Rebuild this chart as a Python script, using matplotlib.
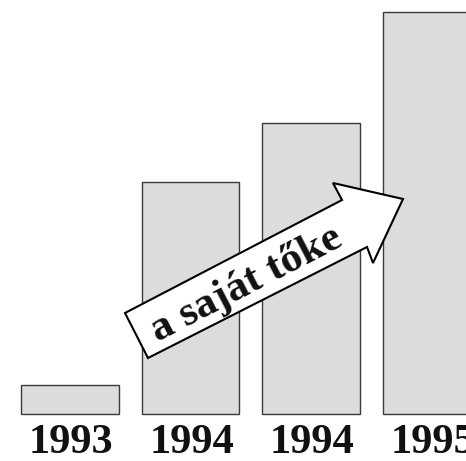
import matplotlib
matplotlib.use('Agg')
import matplotlib.pyplot as plt
from matplotlib.patches import Polygon

# bar data (heights, arbitrary units)
years = ['1993', '1994', '1994', '1995']
values = [29, 232, 291, 402]
arrow_label = 'a saját tőke'

W, H = 466, 461
fig = plt.figure(figsize=(W / 100, H / 100), dpi=100)

# main axes fills the whole figure; bars at 0..3
ax = fig.add_axes([0, 0, 1, 1])
x = range(len(values))
ax.bar(x, values, width=0.813, color='#dcdcdc', edgecolor='#3a3a3a', linewidth=1.0)
ax.set_xlim(-70 / 120.5, (W - 70) / 120.5)
ax.set_ylim(-(H - 414), 414)
ax.axis('off')

for i, yr in enumerate(years):
    ax.text(i + 0.01, -29, yr, ha='center', va='center', fontsize=30.5,
            fontweight='bold', family='Liberation Serif', color='#111111')

# overlay in pixel coords for the arrow
ov = fig.add_axes([0, 0, 1, 1], facecolor='none')
ov.set_xlim(0, W)
ov.set_ylim(H, 0)
ov.axis('off')
arrow_pts = [(125, 313), (148, 358), (367, 247), (373, 263),
             (403, 199), (333, 183), (342, 200)]
ov.add_patch(Polygon(arrow_pts, closed=True, facecolor='white',
                     edgecolor='black', linewidth=1.5, joinstyle='miter'))
ov.text(247, 285, arrow_label, ha='center', va='center', rotation=27.5,
        rotation_mode='anchor', fontsize=31, fontweight='bold',
        family='Liberation Serif', color='#111111')

fig.savefig('out.png', dpi=100)
